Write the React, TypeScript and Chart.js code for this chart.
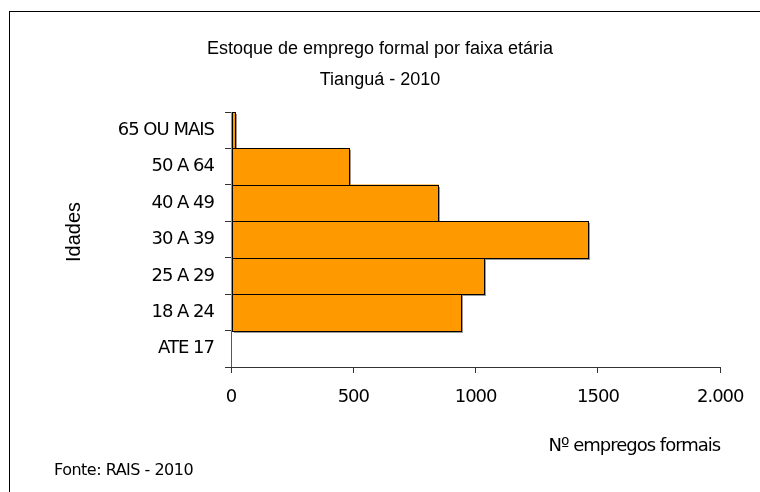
import React, { useEffect, useRef } from 'react';
import { Chart, registerables } from 'chart.js';

Chart.register(...registerables);

// ---- data ----
const categories = ['65 OU MAIS', '50 A 64', '40 A 49', '30 A 39', '25 A 29', '18 A 24', 'ATE 17'];
const values = [16, 482, 848, 1460, 1034, 942, 0];
const xTickValues = [0, 500, 1000, 1500, 2000];
const xTickLabels = ['0', '500', '1000', '1500', '2.000'];
const titleLines = ['Estoque de emprego formal por faixa etária', 'Tianguá - 2010'];
const yAxisTitle = 'Idades';
const xAxisTitle = 'Nº empregos formais';
const sourceNote = 'Fonte: RAIS - 2010';

const W = 760;
const H = 492;

const decorPlugin = {
  id: 'decor',
  beforeDraw(chart: any) {
    const ctx = chart.ctx;
    ctx.save();
    ctx.fillStyle = '#ffffff';
    ctx.fillRect(0, 0, chart.width, chart.height);
    ctx.restore();
    ctx.letterSpacing = '-1px';
  },
  beforeDatasetsDraw(chart: any) {
    const ctx = chart.ctx;
    const meta = chart.getDatasetMeta(0);
    ctx.save();
    ctx.fillStyle = 'rgba(0,0,0,0.4)';
    meta.data.forEach((el: any) => {
      const p = el.getProps(['x', 'y', 'base', 'height'], true);
      const w = Math.abs(p.x - p.base);
      if (w < 0.5) return;
      const left = Math.round(Math.min(p.x, p.base));
      const top = Math.round(p.y - p.height / 2);
      const bottom = Math.round(p.y + p.height / 2);
      const right = Math.round(Math.max(p.x, p.base));
      ctx.fillRect(left + 2, top + 2, right - left, bottom - top);
    });
    ctx.restore();
  },
  afterDatasetsDraw(chart: any) {
    const ctx = chart.ctx;
    const meta = chart.getDatasetMeta(0);
    ctx.save();
    ctx.strokeStyle = '#000000';
    ctx.lineWidth = 1;
    meta.data.forEach((el: any) => {
      const p = el.getProps(['x', 'y', 'base', 'height'], true);
      const w = Math.abs(p.x - p.base);
      if (w < 0.5) return;
      const left = Math.round(Math.min(p.x, p.base));
      const top = Math.round(p.y - p.height / 2);
      const bottom = Math.round(p.y + p.height / 2);
      const right = Math.round(Math.max(p.x, p.base));
      ctx.strokeRect(left + 0.5, top + 0.5, right - left, bottom - top);
    });
    ctx.restore();
  },
  afterDraw(chart: any) {
    const ctx = chart.ctx;
    ctx.save();
    ctx.letterSpacing = '0px';
    // outer frame
    ctx.strokeStyle = '#000000';
    ctx.lineWidth = 1;
    ctx.strokeRect(9.5, 11.5, 900, 700);
    // title
    ctx.fillStyle = '#000000';
    ctx.font = '18px "Liberation Sans", Arial, sans-serif';
    ctx.textAlign = 'center';
    ctx.textBaseline = 'middle';
    ctx.fillText(titleLines[0], 380, 49);
    ctx.fillText(titleLines[1], 380, 80);
    // y axis title
    ctx.save();
    ctx.translate(74, 232);
    ctx.rotate(-Math.PI / 2);
    ctx.font = '20px "Liberation Sans", Arial, sans-serif';
    ctx.fillText(yAxisTitle, 0, 0);
    ctx.restore();
    // source note
    ctx.letterSpacing = '-0.5px';
    ctx.font = '16px "DejaVu Sans", sans-serif';
    ctx.textAlign = 'left';
    ctx.fillText(sourceNote, 54, 471);
    ctx.restore();
  },
};

export default function App() {
  const canvasRef = useRef<HTMLCanvasElement | null>(null);

  useEffect(() => {
    const canvas = canvasRef.current;
    if (!canvas) return;
    const tickFont = { family: '"DejaVu Sans", sans-serif', size: 18 };
    const chart = new Chart(canvas, {
      type: 'bar',
      data: {
        labels: categories,
        datasets: [
          {
            data: values,
            backgroundColor: '#FF9900',
            borderWidth: 0,
            barPercentage: 1,
            categoryPercentage: 1,
          },
        ],
      },
      options: {
        indexAxis: 'y',
        animation: false,
        responsive: false,
        devicePixelRatio: 1,
        layout: { padding: { top: 112, right: 38, left: 0, bottom: 0 } },
        plugins: {
          legend: { display: false },
          title: { display: false },
          tooltip: { enabled: false },
        },
        scales: {
          x: {
            type: 'linear',
            min: 0,
            max: 2000,
            ticks: {
              stepSize: 500,
              callback: (v: any) => {
                const i = xTickValues.indexOf(Number(v));
                return i >= 0 ? xTickLabels[i] : '';
              },
              font: tickFont,
              color: '#000000',
              padding: 14,
              maxRotation: 0,
              autoSkip: false,
            },
            grid: { drawOnChartArea: false, drawTicks: true, tickLength: 6, color: '#333333', lineWidth: 1 },
            border: { color: '#333333', width: 1 },
            title: {
              display: true,
              text: xAxisTitle,
              align: 'end',
              font: tickFont,
              color: '#000000',
              padding: { top: 0, bottom: 35 },
            },
            afterFit: (scale: any) => {
              scale.height = H - 367;
            },
          },
          y: {
            type: 'category',
            ticks: { font: tickFont, color: '#000000', padding: 11, autoSkip: false },
            grid: { drawOnChartArea: false, drawTicks: true, tickLength: 6, color: '#333333', offset: true },
            border: { color: '#333333', width: 1 },
            afterFit: (scale: any) => {
              scale.width = 231;
            },
          },
        },
      } as any,
      plugins: [decorPlugin],
    });
    return () => chart.destroy();
  }, []);

  return (
    <div style={{ position: 'fixed', left: 0, top: 0, width: W, height: H, background: '#fff' }}>
      <canvas ref={canvasRef} width={W} height={H} style={{ display: 'block', width: W, height: H }} />
    </div>
  );
}
